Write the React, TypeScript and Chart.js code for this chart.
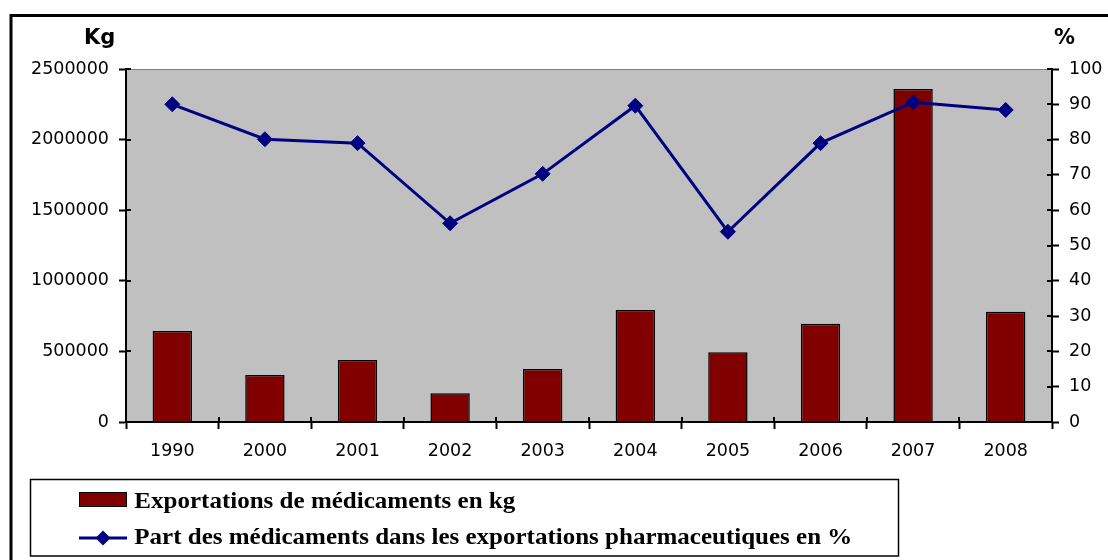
import React, { useEffect, useRef } from "react";
import { Chart, registerables } from "chart.js";

Chart.register(...registerables);

const categories = ["1990", "2000", "2001", "2002", "2003", "2004", "2005", "2006", "2007", "2008"];
const exportsKg = [644000, 333000, 439000, 203000, 375000, 793000, 494000, 696000, 2358000, 781000];
const sharePct = [90, 80.1, 79, 56.3, 70.3, 89.6, 53.9, 79, 90.6, 88.4];
const barLabel = "Exportations de médicaments en kg";
const lineLabel = "Part des médicaments dans les exportations pharmaceutiques en %";
const leftUnit = "Kg";
const rightUnit = "%";

const plotBg = {
  id: "plotBg",
  beforeDraw(chart: any) {
    const { ctx, chartArea } = chart;
    const { left, right, top, bottom } = chartArea;
    ctx.save();
    ctx.fillStyle = "#C0C0C0";
    ctx.fillRect(left, top, right - left, bottom - top);
    ctx.strokeStyle = "#808080";
    ctx.lineWidth = 1;
    ctx.beginPath();
    ctx.moveTo(left, Math.round(top) + 0.5);
    ctx.lineTo(right, Math.round(top) + 0.5);
    ctx.stroke();
    ctx.restore();
  },
};

const innerTicks = {
  id: "innerTicks",
  afterDraw(chart: any) {
    const { ctx, chartArea, scales } = chart;
    const { left, right, bottom } = chartArea;
    ctx.save();
    ctx.strokeStyle = "#000";
    ctx.lineWidth = 2;
    ctx.beginPath();
    scales.y.ticks.forEach((_t: any, i: number) => {
      const yy = Math.round(scales.y.getPixelForTick(i));
      ctx.moveTo(left, yy);
      ctx.lineTo(left + 5, yy);
    });
    scales.y1.ticks.forEach((_t: any, i: number) => {
      const yy = Math.round(scales.y1.getPixelForTick(i));
      ctx.moveTo(right - 5, yy);
      ctx.lineTo(right, yy);
    });
    const n = categories.length;
    for (let i = 0; i <= n; i++) {
      const xx = Math.round(left + (i * (right - left)) / n);
      ctx.moveTo(xx, bottom - 5);
      ctx.lineTo(xx, bottom);
    }
    ctx.stroke();
    ctx.restore();
  },
};

export default function App() {
  const ref = useRef<HTMLCanvasElement>(null);

  useEffect(() => {
    if (!ref.current) return;
    const tickFont = { family: "DejaVu Sans", size: 17.5 };
    const chart = new Chart(ref.current, {
      type: "bar",
      data: {
        labels: categories,
        datasets: [
          {
            type: "line",
            label: lineLabel,
            data: sharePct,
            yAxisID: "y1",
            borderColor: "#000080",
            backgroundColor: "#000080",
            borderWidth: 3,
            pointStyle: "rectRot",
            pointRadius: 7.5,
            pointBackgroundColor: "#000080",
            pointBorderColor: "#000080",
            pointBorderWidth: 1,
            tension: 0,
            order: 0,
          } as any,
          {
            type: "bar",
            label: barLabel,
            data: exportsKg,
            yAxisID: "y",
            backgroundColor: "#800000",
            borderColor: "#000000",
            borderWidth: 1.5,
            barPercentage: 0.425,
            categoryPercentage: 1,
            order: 1,
          } as any,
        ],
      },
      options: {
        animation: false,
        responsive: false,
        devicePixelRatio: 1,
        layout: { padding: { top: 69, left: 0, right: 0, bottom: 88 } },
        plugins: { legend: { display: false }, tooltip: { enabled: false } },
        scales: {
          x: {
            offset: true,
            afterFit: (s: any) => { s.height = 50; },
            grid: { offset: true, drawOnChartArea: false, drawTicks: true, tickLength: 7, tickColor: "#000", tickWidth: 2, color: "#000" },
            border: { display: true, color: "#000", width: 2 },
            ticks: { color: "#000", font: tickFont, padding: 12, maxRotation: 0, autoSkip: false },
          },
          y: {
            position: "left",
            min: 0,
            max: 2500000,
            afterFit: (s: any) => { s.width = 126; },
            grid: { drawOnChartArea: false, drawTicks: true, tickLength: 7, tickColor: "#000", tickWidth: 2, color: "#000" },
            border: { display: true, color: "#000", width: 2 },
            ticks: { stepSize: 500000, color: "#000", font: tickFont, padding: 10, callback: (v: any) => String(v) },
          },
          y1: {
            position: "right",
            min: 0,
            max: 100,
            afterFit: (s: any) => { s.width = 56; },
            grid: { drawOnChartArea: false, drawTicks: true, tickLength: 7, tickColor: "#000", tickWidth: 2, color: "#000" },
            border: { display: true, color: "#000", width: 2 },
            ticks: { stepSize: 10, color: "#000", font: tickFont, padding: 10, callback: (v: any) => String(v) },
          },
        },
      } as any,
      plugins: [plotBg, innerTicks],
    });
    return () => chart.destroy();
  }, []);

  return (
    <div style={{ position: "absolute", left: 0, top: 0, width: 1108, height: 560, overflow: "hidden", background: "#fff" }}>
      <canvas ref={ref} width={1108} height={560} style={{ position: "absolute", left: 0, top: 0, display: "block" }} />
      <svg width={1108} height={560} style={{ position: "absolute", left: 0, top: 0, pointerEvents: "none" }}>
        <rect x={11} y={15.5} width={1200} height={700} fill="none" stroke="#000" strokeWidth={3} />
        <text x={84} y={44} fontFamily="DejaVu Sans" fontWeight="bold" fontSize={21} fill="#000">{leftUnit}</text>
        <text x={1054} y={43.5} fontFamily="DejaVu Sans" fontWeight="bold" fontSize={21} fill="#000">{rightUnit}</text>
        <rect x={30.5} y={479.5} width={868} height={76.5} fill="#fff" stroke="#000" strokeWidth={1.5} />
        <rect x={79.5} y={492.5} width={47} height={14} fill="#800000" stroke="#000" strokeWidth={1} />
        <line x1={79} x2={127} y1={538} y2={538} stroke="#000080" strokeWidth={3} />
        <polygon points="103,530.5 110.5,538 103,545.5 95.5,538" fill="#000080" />
        <text x={134.3} y={507.5} fontFamily="Liberation Serif" fontWeight="bold" fontSize={23} fill="#000" textLength={381} lengthAdjust="spacingAndGlyphs">{barLabel}</text>
        <text x={134.3} y={544} fontFamily="Liberation Serif" fontWeight="bold" fontSize={23} fill="#000" textLength={718} lengthAdjust="spacingAndGlyphs">{lineLabel}</text>
      </svg>
    </div>
  );
}
